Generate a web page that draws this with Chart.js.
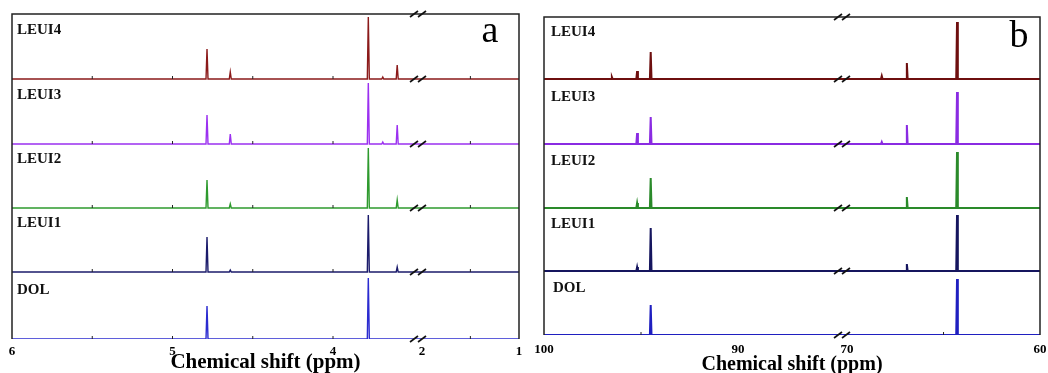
<!DOCTYPE html>
<html><head><meta charset="utf-8">
<script src="https://cdn.jsdelivr.net/npm/chart.js@4.4.1/dist/chart.umd.min.js"></script>
<style>
html,body{margin:0;padding:0;background:#fff;overflow:hidden;width:1048px;height:373px}
#ca{position:absolute;left:0;top:0}
#cb{position:absolute;left:530px;top:0}
</style>
</head><body>
<canvas id="ca" width="530" height="373"></canvas>
<canvas id="cb" width="518" height="373"></canvas>
<script>
// ---------- DATA ----------
const seriesNames = ['LEUI4', 'LEUI3', 'LEUI2', 'LEUI1', 'DOL'];

// Panel a (1H NMR) peak positions (ppm) and relative heights
const shiftsA = [4.785, 4.64, 3.78, 3.69, 3.60];
const leui4A = [30, 7, 62, 2, 14];
const leui3A = [29, 10, 61, 2, 19];
const leui2A = [28, 4, 60, 0, 8];
const leui1A = [35, 2, 57, 0, 5];
const dolA   = [33, 0, 61, 0, 0];
const tickLabelsA = [6, 5, 4, 2, 1];
const minorTicksA = [5.5, 5, 4.5, 4, 1.5];

// Panel b (13C NMR) peak positions (ppm) and relative heights
const shiftsB = [96.5, 95.2, 94.5, 68.2, 66.9, 64.3];
const leui4B = [2, 8, 27, 3, 16, 57];
const leui3B = [0, 11, 27, 2, 19, 52];
const leui2B = [0, 5, 30, 0, 11, 56];
const leui1B = [0, 4, 43, 0, 7, 56];
const dolB   = [0, 0, 30, 0, 0, 56];
const tickLabelsB = [100, 90, 70, 60];
const minorTicksB = [95, 65];

// ---------- CONFIG ----------
const SERIF = "'Liberation Serif','Times New Roman',serif";
const colorsA = ['#8B1A1A', '#9B30F0', '#2E9A2E', '#1B1B6B', '#2B2BD0'];
const colorsB = ['#6E0F0F', '#8A2BE2', '#2A8A2A', '#15155E', '#1F1FC0'];

// broken axis: segments of ppm mapped to a continuous virtual axis
function makeMap(segs) {
  return function (ppm) {
    for (const s of segs) {
      if (ppm <= s.from && ppm >= s.to) return s.v0 + (s.from - ppm) * s.k;
    }
    return NaN;
  };
}
const panelA = {
  canvas: 'ca', letter: 'a', letterPos: [490, 42],
  values: [leui4A, leui3A, leui2A, leui1A, dolA], shifts: shiftsA,
  colors: colorsA, lineWidth: 1.4, peakHalf: 1.0,
  map: makeMap([{from: 6, to: 3.47, v0: 0, k: 160.5}, {from: 2.04, to: 1, v0: 406, k: 97}]),
  vmax: 507, breakV: 406,
  ymax: 325, rowBase: [260, 195, 131, 67, 0],
  tickLabels: tickLabelsA, minorTicks: minorTicksA, minorOnRows: true,
  padding: {left: 12, right: 11, top: 14, bottom: 0}, axisH: 34, tickPad: 5,
  labelDy: -49, labelDx: [5, 5, 5, 5, 5], titleSize: 21, titlePadB: 0
};
const panelB = {
  canvas: 'cb', letter: 'b', letterPos: [489, 47],
  values: [leui4B, leui3B, leui2B, leui1B, dolB], shifts: shiftsB,
  colors: colorsB, lineWidth: 2, peakHalf: 0.8,
  map: makeMap([{from: 100, to: 84.64, v0: 0, k: 19.4}, {from: 70.26, to: 60, v0: 298, k: 19.3}]),
  vmax: 496, breakV: 298,
  ymax: 318, rowBase: [256, 191, 127, 64, 0],
  tickLabels: tickLabelsB, minorTicks: minorTicksB, minorOnRows: false,
  padding: {left: 14, right: 8, top: 17, bottom: 0}, axisH: 38, tickPad: 7,
  labelDy: -47, labelDx: [7, 7, 7, 7, 9], titleSize: 20, titlePadB: -2
};

function buildData(p, idx) {
  const base = p.rowBase[idx];
  const pts = [{x: 0, y: base}];
  p.shifts.forEach((s, i) => {
    const h = p.values[idx][i];
    if (!h) return;
    const v = p.map(s);
    pts.push({x: v - p.peakHalf, y: base}, {x: v, y: base + h}, {x: v + p.peakHalf, y: base});
  });
  pts.push({x: p.vmax, y: base});
  pts.sort((a, b) => a.x - b.x);
  return pts;
}

function breakMark(ctx, x, y) {
  ctx.save();
  ctx.strokeStyle = '#111';
  ctx.lineWidth = 1.6;
  [-4, 4].forEach(dx => {
    ctx.beginPath();
    ctx.moveTo(x + dx - 4, y + 3);
    ctx.lineTo(x + dx + 4, y - 3);
    ctx.stroke();
  });
  ctx.restore();
}

function makeChart(p) {
  const decor = {
    id: 'decor',
    afterDatasetsDraw(chart) {
      const {ctx, chartArea: ca, scales: {x, y}} = chart;
      ctx.save();
      // frame
      ctx.strokeStyle = '#222';
      ctx.lineWidth = 1.5;
      ctx.beginPath();
      ctx.moveTo(ca.left, y.getPixelForValue(0));
      ctx.lineTo(ca.left, ca.top);
      ctx.lineTo(ca.right, ca.top);
      ctx.lineTo(ca.right, y.getPixelForValue(0));
      ctx.stroke();
      // minor ticks
      ctx.lineWidth = 1;
      ctx.strokeStyle = '#222';
      const rows = p.minorOnRows ? p.rowBase : [0];
      rows.forEach(b => {
        const py = y.getPixelForValue(b);
        p.minorTicks.forEach(t => {
          const px = x.getPixelForValue(p.map(t));
          ctx.beginPath(); ctx.moveTo(px, py); ctx.lineTo(px, py - 3); ctx.stroke();
        });
      });
      // break marks
      const bx = x.getPixelForValue(p.breakV);
      breakMark(ctx, bx, ca.top);
      p.rowBase.forEach(b => breakMark(ctx, bx, y.getPixelForValue(b)));
      // row labels
      ctx.fillStyle = '#111';
      ctx.font = 'bold 15px ' + SERIF;
      ctx.textAlign = 'left';
      ctx.textBaseline = 'middle';
      seriesNames.forEach((n, i) => {
        ctx.fillText(n, ca.left + p.labelDx[i], y.getPixelForValue(p.rowBase[i]) + p.labelDy);
      });
      // panel letter
      ctx.font = '38px ' + SERIF;
      ctx.textAlign = 'center';
      ctx.textBaseline = 'alphabetic';
      ctx.fillStyle = '#000';
      ctx.fillText(p.letter, p.letterPos[0], p.letterPos[1]);
      ctx.restore();
    }
  };
  return new Chart(document.getElementById(p.canvas), {
    type: 'line',
    data: {
      datasets: seriesNames.map((n, i) => ({
        label: n,
        data: buildData(p, i),
        borderColor: p.colors[i],
        borderWidth: p.lineWidth,
        pointRadius: 0,
        tension: 0,
        fill: false
      }))
    },
    options: {
      responsive: false,
      animation: false,
      devicePixelRatio: 1,
      layout: {padding: p.padding},
      plugins: {legend: {display: false}, tooltip: {enabled: false}},
      scales: {
        x: {
          type: 'linear', min: 0, max: p.vmax,
          grid: {display: false, drawTicks: false},
          border: {display: false},
          afterBuildTicks: s => { s.ticks = p.tickLabels.map(t => ({value: p.map(t)})); },
          afterFit: s => { s.height = p.axisH; s.paddingLeft = 0; s.paddingRight = 0; },
          ticks: {
            autoSkip: false, maxRotation: 0, padding: p.tickPad, color: '#000',
            font: {family: SERIF, size: 13, weight: 'bold'},
            callback: (v, i) => String(p.tickLabels[i])
          },
          title: {
            display: true, text: 'Chemical shift (ppm)', color: '#000',
            font: {family: SERIF, size: p.titleSize, weight: 'bold', lineHeight: 1},
            padding: {top: 0, bottom: p.titlePadB}
          }
        },
        y: {display: false, min: 0, max: p.ymax}
      }
    },
    plugins: [decor]
  });
}
makeChart(panelA);
makeChart(panelB);
</script>
</body></html>
